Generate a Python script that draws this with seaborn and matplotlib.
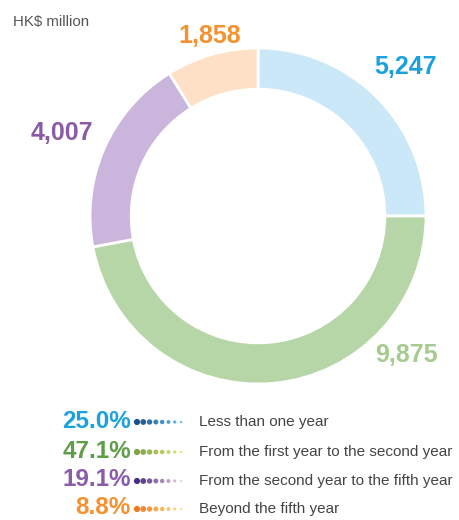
import numpy as np
import matplotlib
matplotlib.use("Agg")
import matplotlib.pyplot as plt
import seaborn as sns

# datos
categorias = ["Less than one year",
              "From the first year to the second year",
              "From the second year to the fifth year",
              "Beyond the fifth year"]
valores = [5247, 9875, 4007, 1858]
etiquetas_valor = ["5,247", "9,875", "4,007", "1,858"]
porcentajes = ["25.0%", "47.1%", "19.1%", "8.8%"]
unidad = "HK$ million"

# colores
relleno = ["#cbe8f8", "#b7d6a8", "#cab6dc", "#fde0c6"]
texto_valor = ["#1ba1dc", "#a6cb90", "#8a5ca8", "#f5922f"]
texto_pct = ["#1ba1dc", "#5f9e49", "#8a5ca8", "#f5922f"]
puntos = [("#1f4e8c", "#5cc3ee"), ("#7fa345", "#e0e66a"),
          ("#4b2c7f", "#efcde3"), ("#f07a1e", "#fde58c")]

sns.set_theme(style="white")
plt.rcParams["font.family"] = ["Liberation Sans", "DejaVu Sans"]

W, H = 459, 520
fig = plt.figure(figsize=(W / 100, H / 100), dpi=100)

# donut
cx, cy, r = 258, 216, 168
ax = fig.add_axes([(cx - r) / W, (H - cy - r) / H, 2 * r / W, 2 * r / H])
ax.pie(valores, colors=relleno, startangle=90, counterclock=False,
       wedgeprops=dict(width=0.245, edgecolor="white", linewidth=2))
ax.set_xlim(-1, 1)
ax.set_ylim(-1, 1)
ax.set_aspect("equal")
ax.axis("off")

# capa de texto en pixeles
ov = fig.add_axes([0, 0, 1, 1])
ov.set_xlim(0, W)
ov.set_ylim(H, 0)
ov.axis("off")
ov.patch.set_alpha(0)

ov.text(13, 22, unidad, fontsize=10.8, color="#555555", va="center", ha="left")

pos_valor = [(406, 67), (406, 355), (62, 133), (210, 36)]
for (x, y), t, c in zip(pos_valor, etiquetas_valor, texto_valor):
    ov.text(x, y, t, fontsize=18, fontweight="bold", color=c, ha="center", va="center")

filas = [421, 451, 480, 508]
for y, pct, c, cat, (c0, c1) in zip(filas, porcentajes, texto_pct, categorias, puntos):
    ov.text(131, y, pct, fontsize=17.5, fontweight="bold", color=c, ha="right", va="center")
    ov.text(199, y + 1, cat, fontsize=11, color="#444444", ha="left", va="center")
    xs = np.linspace(137, 181, 8)
    tamanos = np.linspace(20, 3, 8)
    cmap = matplotlib.colors.LinearSegmentedColormap.from_list("g", [c0, c1])
    cols = [cmap(t) for t in np.linspace(0, 1, 8)]
    ov.scatter(xs, [y + 1] * 8, s=tamanos, c=cols, linewidths=0)

fig.savefig("out.png", dpi=100)
